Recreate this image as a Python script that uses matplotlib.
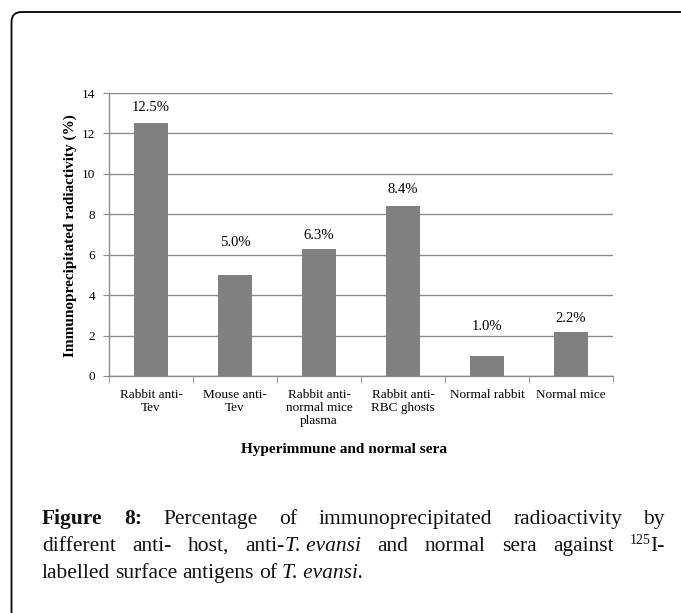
import matplotlib
matplotlib.use("Agg")
import matplotlib.pyplot as plt
from matplotlib.patches import FancyBboxPatch
import numpy as np

categories = ["Rabbit anti-\nTev", "Mouse anti-\nTev", "Rabbit anti-\nnormal mice\nplasma",
              "Rabbit anti-\nRBC ghosts", "Normal rabbit", "Normal mice"]
values = [12.5, 5.0, 6.3, 8.4, 1.0, 2.2]
value_labels = ["12.5%", "5.0%", "6.3%", "8.4%", "1.0%", "2.2%"]
y_ticks = [0, 2, 4, 6, 8, 10, 12, 14]

# how far above each bar its label sits (the labels were nudged by hand in the original)
label_lift = [0.8, 1.58, 0.63, 0.85, 1.47, 0.62]

serif = "Liberation Serif"
grey = "#8c8c8c"

fig = plt.figure(figsize=(6.81, 6.13), dpi=100)

# rounded frame around the figure panel (runs off the right and bottom edge)
frame = FancyBboxPatch((0.115, -0.5), 7.0, 6.13 - 0.12 + 0.5,
                       boxstyle="round,pad=0,rounding_size=0.1",
                       transform=fig.dpi_scale_trans, fill=False,
                       edgecolor="black", linewidth=1.3)
fig.patches.append(frame)

ax = fig.add_axes([109 / 681, 1 - 376 / 613, (613 - 109) / 681, (376 - 93) / 613])
x = np.arange(len(categories))
ax.bar(x, values, width=0.4, color="#808080", zorder=3)
for xi, v, lab, lift in zip(x, values, value_labels, label_lift):
    ax.text(xi, v + lift, lab, ha="center", va="center", family=serif, fontsize=10.5)

ax.set_xlim(-0.5, len(categories) - 0.5)
ax.set_ylim(0, 14)
ax.set_yticks(y_ticks)
ax.set_yticklabels([str(t) for t in y_ticks], family=serif, fontsize=9.5)
ax.set_xticks(x)
ax.set_xticklabels(categories, family=serif, fontsize=9.5, linespacing=1.15)
ax.set_xticks(np.arange(-0.5, len(categories)), minor=True)
ax.tick_params(axis="x", which="major", length=0, pad=9)
ax.tick_params(axis="x", which="minor", length=5, color=grey, direction="out")
ax.tick_params(axis="y", length=4, color=grey, pad=6)
ax.grid(axis="y", color=grey, linewidth=1, zorder=0)
for s in ["top", "right"]:
    ax.spines[s].set_visible(False)
for s in ["left", "bottom"]:
    ax.spines[s].set_color(grey)
    ax.spines[s].set_linewidth(1)

fig.text(70 / 681, 1 - 236 / 613, "Immunoprecipitated radiactivity (%)", rotation=90,
         ha="center", va="center", family=serif, fontweight="bold", fontsize=11)
fig.text(344 / 681, 1 - 450 / 613, "Hyperimmune and normal sera", ha="center",
         va="center", family=serif, fontweight="bold", fontsize=11)

# caption, justified like in the journal layout
cs = 15.5
caption_lines = [
    [("Figure", "bold", "normal", cs, 0), ("8:", "bold", "normal", cs, 0),
     ("Percentage", "normal", "normal", cs, 0), ("of", "normal", "normal", cs, 0),
     ("immunoprecipitated", "normal", "normal", cs, 0),
     ("radioactivity", "normal", "normal", cs, 0), ("by", "normal", "normal", cs, 0)],
    [("different", "normal", "normal", cs, 0), ("anti-", "normal", "normal", cs, 0),
     ("host,", "normal", "normal", cs, 0), ("anti-", "normal", "normal", cs, 0),
     ("T. evansi", "normal", "italic", cs, 0), ("and", "normal", "normal", cs, 0),
     ("normal", "normal", "normal", cs, 0), ("sera", "normal", "normal", cs, 0),
     ("against", "normal", "normal", cs, 0), ("125", "normal", "normal", 10, 7),
     ("I-", "normal", "normal", cs, 0)],
    [("labelled", "normal", "normal", cs, 0), ("surface", "normal", "normal", cs, 0),
     ("antigens", "normal", "normal", cs, 0), ("of", "normal", "normal", cs, 0),
     ("T. evansi.", "normal", "italic", cs, 0)],
]
# pieces that stick to the previous word with no gap
no_gap = {(1, 4), (1, 10)}
left_px, right_px = 42, 665
baselines = [524, 551, 578]
justify = [True, True, False]

renderer = fig.canvas.get_renderer()
for li, words in enumerate(caption_lines):
    texts = []
    for (w, wt, st, sz, dy) in words:
        t = fig.text(0, 0, w, family=serif, fontweight=wt, fontstyle=st, fontsize=sz,
                     ha="left", va="baseline", color="#111111")
        texts.append(t)
    widths = [t.get_window_extent(renderer).width for t in texts]
    n_gaps = sum(1 for wi in range(1, len(words)) if (li, wi) not in no_gap)
    if justify[li]:
        gap = (right_px - left_px - sum(widths)) / n_gaps
    else:
        gap = 5
    xpos = left_px
    for wi, (t, wdt) in enumerate(zip(texts, widths)):
        if wi > 0 and (li, wi) not in no_gap:
            xpos += gap
        dy = words[wi][4]
        t.set_position((xpos / 681, 1 - (baselines[li] - dy) / 613))
        xpos += wdt

fig.savefig("out.png", dpi=100)
